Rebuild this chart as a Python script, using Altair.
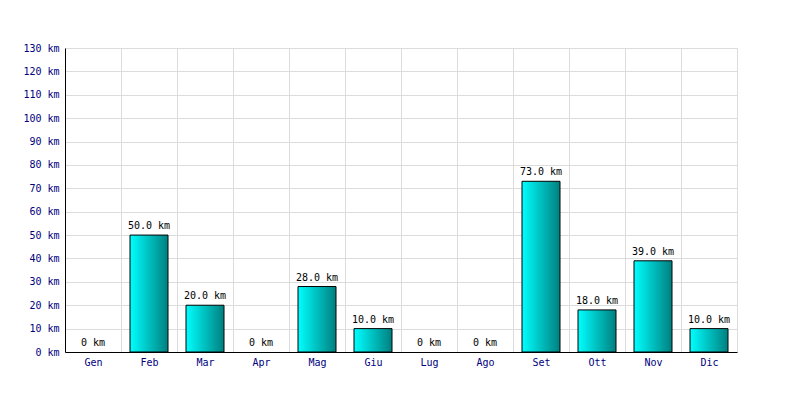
import altair as alt
import pandas as pd

months = ["Gen", "Feb", "Mar", "Apr", "Mag", "Giu", "Lug", "Ago", "Set", "Ott", "Nov", "Dic"]
km = [0, 50, 20, 0, 28, 10, 0, 0, 73, 18, 39, 10]

df = pd.DataFrame({"month": months, "km": km})

font = "DejaVu Sans Mono"
fs = 10

grad = alt.LinearGradient(
    gradient="linear",
    stops=[alt.GradientStop(color="#00ffff", offset=0), alt.GradientStop(color="#008080", offset=1)],
    x1=0, x2=1, y1=0, y2=0,
)

x = alt.X("month:N", sort=months, title=None,
          scale=alt.Scale(paddingInner=0, paddingOuter=0),
          axis=alt.Axis(labelAngle=0, ticks=False, grid=True, tickBand="extent",
                        gridColor="#dcdcdc", domainColor="black", labelColor="#000080",
                        labelFont=font, labelFontSize=fs, labelPadding=5))

y = alt.Y("km:Q", title=None,
          scale=alt.Scale(domain=[0, 130], nice=False),
          axis=alt.Axis(values=list(range(0, 131, 10)), labelExpr="datum.value + ' km'",
                        labelOverlap=False, ticks=False, gridColor="#dcdcdc", domainColor="black",
                        labelColor="#000080", labelFont=font, labelFontSize=fs, labelPadding=6))

bars = alt.Chart(df).transform_filter("datum.km > 0").mark_bar(
    size=38, color=grad, stroke="black", strokeWidth=1).encode(x=x, y=y)

text = alt.Chart(df).transform_calculate(
    lab="datum.km == 0 ? '0 km' : format(datum.km, '.1f') + ' km'"
).mark_text(font=font, fontSize=fs, color="black", baseline="bottom", dy=-4).encode(
    x=x, y=y, text="lab:N")

chart = (bars + text).properties(
    width=672, height=304,
    autosize=alt.AutoSizeParams(type="none"),
    padding={"left": 57, "top": 40, "right": 55, "bottom": 40},
).configure_view(stroke="#dcdcdc", strokeWidth=1)

chart.save("out.html", embed_options={"renderer": "svg", "actions": False})
